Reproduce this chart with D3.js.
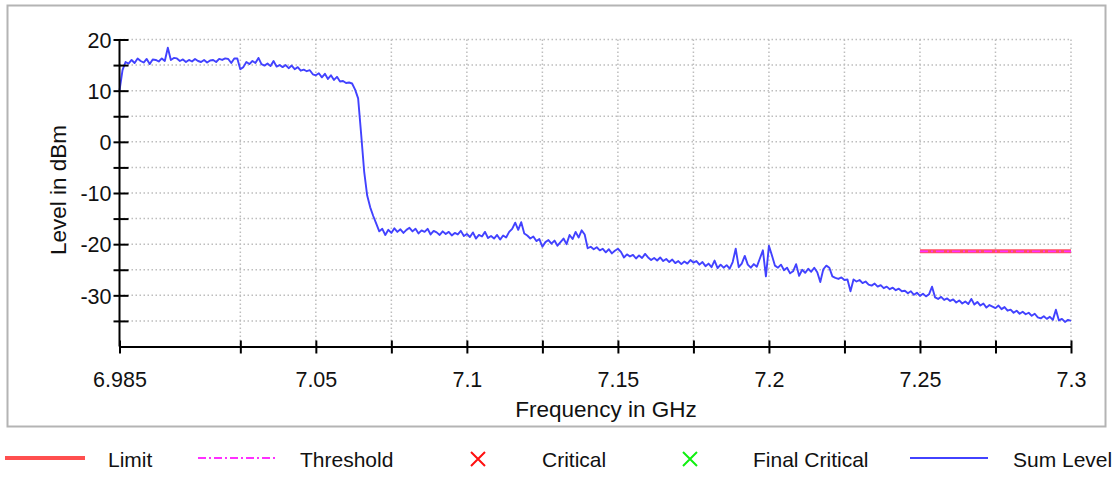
<!DOCTYPE html>
<html><head><meta charset="utf-8">
<script src="https://cdn.jsdelivr.net/npm/d3@7"></script>
<style>
html,body{margin:0;padding:0;background:#fff;}
svg text{font-family:"Liberation Sans",Arial,sans-serif;fill:#111;}
</style></head>
<body><svg id="chart" width="1113" height="477"></svg>
<script>
// ---- data ----
const freqStart = 6.985;   // GHz, first sweep point
const freqStep = 0.001;    // GHz, sweep step
const sumLevel = [
 10.0,14.0,15.6,15.3,16.0,15.4,16.3,15.8,15.5,16.2,
 15.2,16.1,16.0,15.7,16.3,15.8,18.4,16.0,16.4,16.3,
 15.8,16.1,15.6,16.0,15.7,16.2,15.8,15.6,16.0,15.5,
 15.9,16.0,15.6,16.2,16.0,16.3,16.2,15.4,16.3,16.3,
 14.2,14.6,15.6,15.2,15.8,15.4,16.4,15.2,14.9,15.3,
 14.8,15.8,14.7,15.0,14.6,15.0,14.4,14.9,14.2,14.6,
 13.9,14.1,13.8,14.0,13.2,13.0,13.4,12.6,13.3,12.3,
 13.0,12.1,12.7,11.8,11.9,11.5,11.6,11.4,10.2,8.5,
 1.5,-5.8,-10.5,-12.8,-14.5,-16.0,-17.5,-17.0,-18.2,-17.2,
 -17.8,-16.9,-17.6,-17.1,-17.8,-17.2,-16.8,-17.5,-17.0,-17.9,
 -17.3,-17.6,-17.0,-18.1,-17.4,-17.7,-18.2,-17.5,-18.0,-17.6,
 -18.3,-17.8,-18.1,-17.4,-18.4,-18.0,-18.6,-17.7,-18.9,-18.2,
 -18.5,-17.6,-18.8,-18.4,-18.9,-18.2,-19.1,-18.3,-18.7,-17.6,
 -17.0,-15.8,-17.2,-15.7,-17.9,-18.3,-18.9,-18.5,-19.4,-19.0,
 -20.5,-19.6,-19.2,-19.9,-19.3,-20.3,-19.6,-18.9,-20.0,-18.2,
 -19.0,-17.6,-18.7,-17.3,-18.1,-20.8,-20.5,-21.0,-20.6,-21.2,
 -20.9,-21.6,-21.0,-21.8,-21.3,-20.9,-21.5,-22.6,-22.0,-22.4,
 -22.1,-22.8,-22.2,-22.7,-21.9,-22.6,-23.1,-22.7,-23.2,-22.6,
 -23.3,-22.9,-23.5,-23.0,-23.7,-23.3,-23.9,-23.4,-23.8,-23.1,
 -23.6,-23.3,-24.0,-23.5,-24.3,-23.8,-24.5,-23.2,-24.7,-24.0,
 -24.6,-24.1,-24.8,-23.5,-20.9,-24.5,-23.8,-22.3,-24.0,-24.6,
 -23.9,-24.4,-22.8,-21.2,-26.3,-20.3,-22.2,-24.2,-24.6,-24.0,
 -25.1,-24.6,-25.7,-25.3,-23.9,-26.2,-25.0,-25.6,-24.8,-25.4,
 -24.6,-25.5,-27.4,-24.9,-24.2,-24.6,-26.3,-26.6,-26.8,-26.5,
 -27.0,-26.9,-29.2,-26.9,-27.3,-27.0,-27.6,-27.3,-27.9,-28.1,
 -27.7,-28.3,-28.0,-28.6,-28.3,-28.8,-28.5,-29.0,-28.7,-29.2,
 -29.1,-29.6,-29.2,-29.9,-29.5,-30.1,-29.7,-30.2,-29.8,-28.3,
 -30.4,-30.7,-30.3,-30.9,-30.6,-31.1,-30.8,-31.4,-31.0,-31.6,
 -31.2,-31.7,-30.7,-31.8,-31.3,-32.0,-31.6,-32.4,-31.9,-32.2,
 -32.5,-32.0,-32.7,-32.3,-33.0,-32.8,-33.4,-33.0,-33.6,-33.2,
 -33.7,-33.4,-34.0,-33.6,-34.3,-34.5,-34.1,-34.6,-34.2,-34.8,
 -32.8,-34.9,-34.6,-35.2,-34.8,-35.0
];
const limitFreqs = [7.25, 7.3];
const limitLevels = [-21.4, -21.4];
const thresholdLevels = [-21.4, -21.4];
const xTickValues = [6.985, 7.025, 7.05, 7.075, 7.1, 7.125, 7.15, 7.175, 7.2, 7.225, 7.25, 7.275, 7.3];
const xTickLabels = {"6.985":"6.985","7.05":"7.05","7.1":"7.1","7.15":"7.15","7.2":"7.2","7.25":"7.25","7.3":"7.3"};
const yTickValues = [20,15,10,5,0,-5,-10,-15,-20,-25,-30,-35];
const yTickLabels = {"20":"20","10":"10","0":"0","-10":"-10","-20":"-20","-30":"-30"};
const legendItems = ["Limit","Threshold","Critical","Final Critical","Sum Level"];
const xTitle = "Frequency in GHz";
const yTitle = "Level in dBm";

// ---- layout ----
const svg = d3.select("#chart");
const L = 119.5, R = 1071, T = 39.5, B = 346.5;
const x = d3.scaleLinear().domain([6.985, 7.3]).range([L, R]);
const y = d3.scaleLinear().domain([-40, 20]).range([B, T]);
const FS_TICK = 21.5, FS_TITLE = 22.5, FS_LEG = 21;

// outer frame
svg.append("rect").attr("x",7.5).attr("y",5.5).attr("width",1098).attr("height",421)
  .attr("fill","none").attr("stroke","#b4b4b4").attr("stroke-width",2);

// grid
const grid = svg.append("g").attr("stroke","#bdbdbd").attr("stroke-width",1.5).attr("stroke-dasharray","1.5,2.5");
grid.selectAll("line.h").data(yTickValues).join("line")
  .attr("x1",L).attr("x2",R).attr("y1",d=>y(d)).attr("y2",d=>y(d));
grid.selectAll("line.v").data(xTickValues.filter(d=>d>6.985)).join("line")
  .attr("y1",T).attr("y2",B).attr("x1",d=>x(d)).attr("x2",d=>x(d));

// limit + threshold
const lineGen = d3.line().x(d=>x(d[0])).y(d=>y(d[1]));
svg.append("path").datum(limitFreqs.map((f,i)=>[f,limitLevels[i]]))
  .attr("d",lineGen).attr("fill","none").attr("stroke","#ff4f5f").attr("stroke-width",4);
svg.append("path").datum(limitFreqs.map((f,i)=>[f,thresholdLevels[i]]))
  .attr("d",lineGen).attr("fill","none").attr("stroke","#ff30ff").attr("stroke-width",1.6)
  .attr("stroke-dasharray","8,3,2,3");

// sum level trace
const trace = sumLevel.map((v,i)=>[freqStart + i*freqStep, v]);
svg.append("path").datum(trace).attr("d",lineGen).attr("fill","none")
  .attr("stroke","#4242ff").attr("stroke-width",1.9).attr("stroke-linejoin","round");

// axes
const xAxis = d3.axisBottom(x).tickValues(xTickValues).tickSizeInner(6).tickSizeOuter(0)
  .tickFormat(d=>xTickLabels[String(+d.toFixed(3))]||"");
const gx = svg.append("g").attr("transform",`translate(0,${B})`).call(xAxis);
gx.select(".domain").attr("stroke","#000").attr("stroke-width",2);
gx.selectAll(".tick line").attr("stroke","#000").attr("stroke-width",2).attr("y1",-6).attr("y2",7);
gx.selectAll(".tick text").attr("y",0).attr("dy",null).attr("transform","translate(0,40)")
  .attr("font-size",FS_TICK).attr("fill","#111").style("font-family","Liberation Sans, Arial, sans-serif");

const yAxis = d3.axisLeft(y).tickValues(yTickValues).tickSizeInner(6).tickSizeOuter(0)
  .tickFormat(d=>yTickLabels[String(d)]||"");
const gy = svg.append("g").attr("transform",`translate(${L},0)`).call(yAxis);
gy.select(".domain").attr("stroke","#000").attr("stroke-width",2).attr("d",`M0,${T}V${B}`);
gy.selectAll(".tick line").attr("stroke","#000").attr("stroke-width",2).attr("x1",-6).attr("x2",9);
gy.selectAll(".tick text").attr("x",-8).attr("dy","0.36em")
  .attr("font-size",FS_TICK).attr("fill","#111").style("font-family","Liberation Sans, Arial, sans-serif");

// axis titles
svg.append("text").attr("x",606).attr("y",417).attr("text-anchor","middle")
  .attr("font-size",FS_TITLE).text(xTitle);
svg.append("text").attr("transform","translate(66,190) rotate(-90)").attr("text-anchor","middle")
  .attr("font-size",FS_TITLE).text(yTitle);

// legend
const ly = 458, ty = 467;
const lg = svg.append("g");
lg.append("line").attr("x1",5).attr("x2",85).attr("y1",ly).attr("y2",ly).attr("stroke","#ff4f4f").attr("stroke-width",4);
lg.append("text").attr("x",108).attr("y",ty).attr("font-size",FS_LEG).text(legendItems[0]);
lg.append("line").attr("x1",198).attr("x2",276).attr("y1",ly).attr("y2",ly).attr("stroke","#ff30ff").attr("stroke-width",1.8).attr("stroke-dasharray","8,3,2,3");
lg.append("text").attr("x",300).attr("y",ty).attr("font-size",FS_LEG).text(legendItems[1]);
function cross(cx,cy,col){
  lg.append("path").attr("d",`M${cx-7},${cy-7}L${cx+7},${cy+7}M${cx-7},${cy+7}L${cx+7},${cy-7}`)
    .attr("stroke",col).attr("stroke-width",2).attr("fill","none");
}
cross(478,459,"#ff1010");
lg.append("text").attr("x",542).attr("y",ty).attr("font-size",FS_LEG).text(legendItems[2]);
cross(690,459,"#10f010");
lg.append("text").attr("x",753).attr("y",ty).attr("font-size",FS_LEG).text(legendItems[3]);
lg.append("line").attr("x1",910).attr("x2",988).attr("y1",ly).attr("y2",ly).attr("stroke","#4242ff").attr("stroke-width",1.8);
lg.append("text").attr("x",1013).attr("y",ty).attr("font-size",FS_LEG).text(legendItems[4]);
</script></body></html>
